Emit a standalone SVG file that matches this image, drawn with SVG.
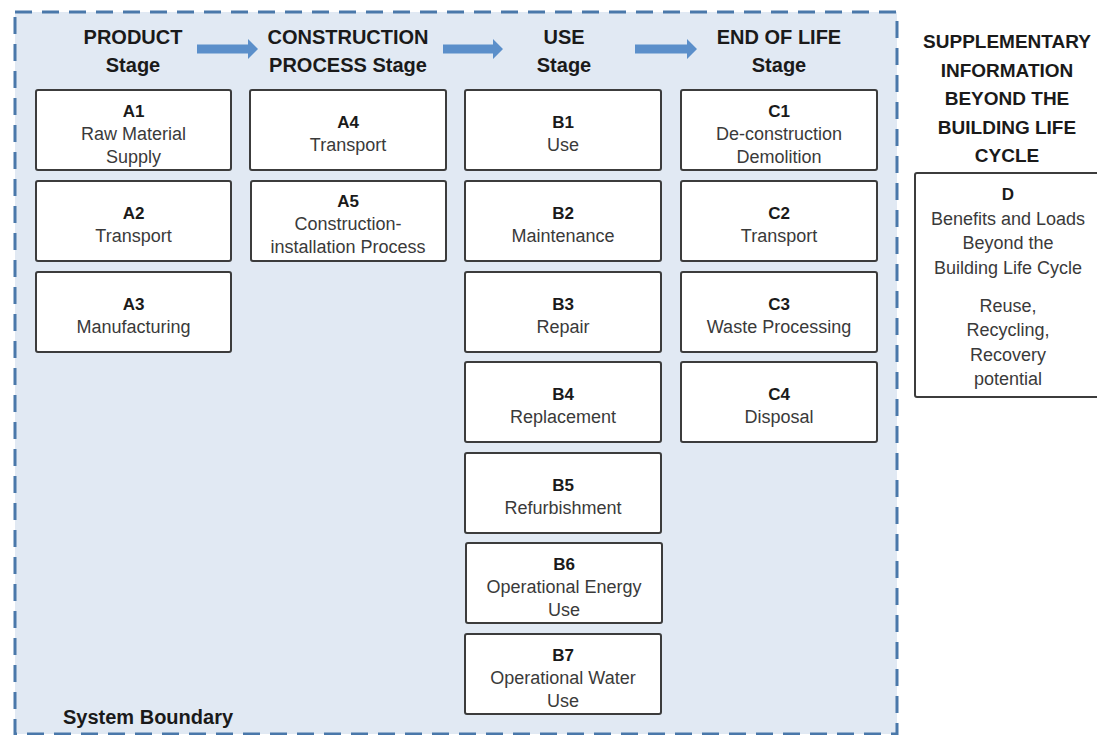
<svg xmlns="http://www.w3.org/2000/svg" width="1097" height="735" viewBox="0 0 1097 735">
<style>
.bg{fill:#ffffff}
.boundary{fill:#e1e9f3;stroke:#4a78aa;stroke-width:3;stroke-dasharray:17 10}
.box{fill:#ffffff;stroke:#3c3c3c;stroke-width:2}
.hdr{font-family:"Liberation Sans",Arial,sans-serif;font-weight:bold;font-size:20px;fill:#1a1a1a;text-anchor:middle}
.sup{font-family:"Liberation Sans",Arial,sans-serif;font-weight:bold;font-size:19px;fill:#1a1a1a;text-anchor:middle}
.code{font-family:"Liberation Sans",Arial,sans-serif;font-weight:bold;font-size:17px;fill:#1a1a1a;text-anchor:middle}
.lbl{font-family:"Liberation Sans",Arial,sans-serif;font-size:18px;fill:#3a3a3a;text-anchor:middle}
.sb{font-family:"Liberation Sans",Arial,sans-serif;font-weight:bold;font-size:20px;fill:#1a1a1a}
.arrow{fill:#5b8fca}
</style>
<rect class="bg" x="0" y="0" width="1097" height="735"/>
<g id="system-boundary">
<rect class="boundary" x="15" y="12" width="882" height="722"/>
<text class="sb" x="63" y="724">System Boundary</text>
</g>
<g id="connectors">
<path class="arrow" d="M197,44.5 H248 V39 L258,49 L248,59 V53.5 H197 Z"/>
<path class="arrow" d="M443,44.5 H493 V39 L503,49 L493,59 V53.5 H443 Z"/>
<path class="arrow" d="M635,44.5 H687 V39 L697,49 L687,59 V53.5 H635 Z"/>
</g>
<g id="header-product"><text class="hdr" x="133" y="44">PRODUCT</text><text class="hdr" x="133" y="72">Stage</text></g>
<g id="header-construction"><text class="hdr" x="348" y="44">CONSTRUCTION</text><text class="hdr" x="348" y="72">PROCESS Stage</text></g>
<g id="header-use"><text class="hdr" x="564" y="44">USE</text><text class="hdr" x="564" y="72">Stage</text></g>
<g id="header-eol"><text class="hdr" x="779" y="44">END OF LIFE</text><text class="hdr" x="779" y="72">Stage</text></g>
<g id="header-supplementary">
<text class="sup" x="1007" y="48">SUPPLEMENTARY</text>
<text class="sup" x="1007" y="77">INFORMATION</text>
<text class="sup" x="1007" y="105">BEYOND THE</text>
<text class="sup" x="1007" y="134">BUILDING LIFE</text>
<text class="sup" x="1007" y="162">CYCLE</text>
</g>
<g id="A1"><rect class="box" x="36" y="90" width="195" height="80" rx="2"/><text class="code" x="133.5" y="117">A1</text><text class="lbl" x="133.5" y="140">Raw Material</text><text class="lbl" x="133.5" y="163">Supply</text></g>
<g id="A2"><rect class="box" x="36" y="181" width="195" height="80" rx="2"/><text class="code" x="133.5" y="219">A2</text><text class="lbl" x="133.5" y="242">Transport</text></g>
<g id="A3"><rect class="box" x="36" y="272" width="195" height="80" rx="2"/><text class="code" x="133.5" y="310">A3</text><text class="lbl" x="133.5" y="333">Manufacturing</text></g>
<g id="A4"><rect class="box" x="250" y="90" width="196" height="80" rx="2"/><text class="code" x="348" y="128">A4</text><text class="lbl" x="348" y="151">Transport</text></g>
<g id="A5"><rect class="box" x="251" y="181" width="195" height="80" rx="2"/><text class="code" x="348" y="207">A5</text><text class="lbl" x="348" y="230">Construction-</text><text class="lbl" x="348" y="253">installation Process</text></g>
<g id="B1"><rect class="box" x="465" y="90" width="196" height="80" rx="2"/><text class="code" x="563" y="128">B1</text><text class="lbl" x="563" y="151">Use</text></g>
<g id="B2"><rect class="box" x="465" y="181" width="196" height="80" rx="2"/><text class="code" x="563" y="219">B2</text><text class="lbl" x="563" y="242">Maintenance</text></g>
<g id="B3"><rect class="box" x="465" y="272" width="196" height="80" rx="2"/><text class="code" x="563" y="310">B3</text><text class="lbl" x="563" y="333">Repair</text></g>
<g id="B4"><rect class="box" x="465" y="362" width="196" height="80" rx="2"/><text class="code" x="563" y="400">B4</text><text class="lbl" x="563" y="423">Replacement</text></g>
<g id="B5"><rect class="box" x="465" y="453" width="196" height="80" rx="2"/><text class="code" x="563" y="491">B5</text><text class="lbl" x="563" y="514">Refurbishment</text></g>
<g id="B6"><rect class="box" x="466" y="543" width="196" height="80" rx="2"/><text class="code" x="564" y="570">B6</text><text class="lbl" x="564" y="593">Operational Energy</text><text class="lbl" x="564" y="616">Use</text></g>
<g id="B7"><rect class="box" x="465" y="634" width="196" height="80" rx="2"/><text class="code" x="563" y="661">B7</text><text class="lbl" x="563" y="684">Operational Water</text><text class="lbl" x="563" y="707">Use</text></g>
<g id="C1"><rect class="box" x="681" y="90" width="196" height="80" rx="2"/><text class="code" x="779" y="117">C1</text><text class="lbl" x="779" y="140">De-construction</text><text class="lbl" x="779" y="163">Demolition</text></g>
<g id="C2"><rect class="box" x="681" y="181" width="196" height="80" rx="2"/><text class="code" x="779" y="219">C2</text><text class="lbl" x="779" y="242">Transport</text></g>
<g id="C3"><rect class="box" x="681" y="272" width="196" height="80" rx="2"/><text class="code" x="779" y="310">C3</text><text class="lbl" x="779" y="333">Waste Processing</text></g>
<g id="C4"><rect class="box" x="681" y="362" width="196" height="80" rx="2"/><text class="code" x="779" y="400">C4</text><text class="lbl" x="779" y="423">Disposal</text></g>
<g id="D"><rect class="box" x="915" y="173" width="190" height="224" rx="2"/>
<text class="code" x="1008" y="200">D</text>
<text class="lbl" x="1008" y="225">Benefits and Loads</text>
<text class="lbl" x="1008" y="249">Beyond the</text>
<text class="lbl" x="1008" y="274">Building Life Cycle</text>
<text class="lbl" x="1008" y="312">Reuse,</text>
<text class="lbl" x="1008" y="336">Recycling,</text>
<text class="lbl" x="1008" y="361">Recovery</text>
<text class="lbl" x="1008" y="385">potential</text>
</g>
</svg>
